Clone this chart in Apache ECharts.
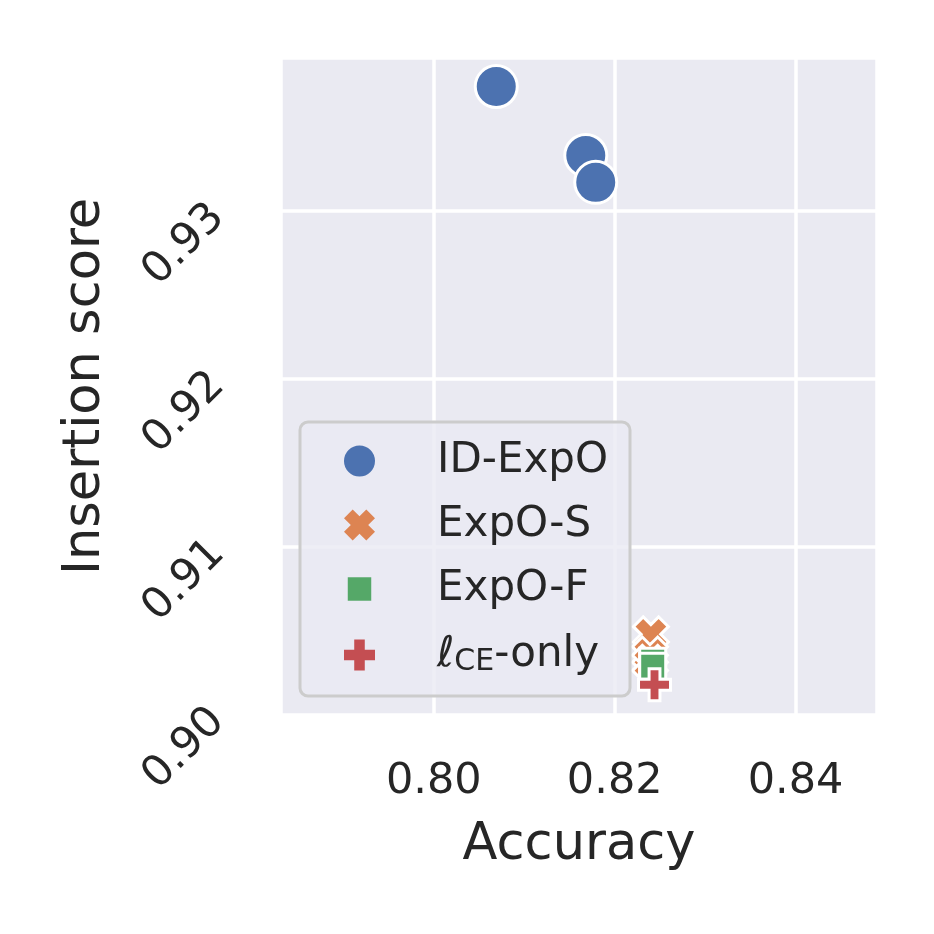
<!DOCTYPE html>
<html>
<head>
<meta charset="utf-8">
<script src="https://cdn.jsdelivr.net/npm/echarts@6/dist/echarts.min.js"></script>
<style>
html, body { margin: 0; padding: 0; background: #fff; }
#chart { width: 934px; height: 934px; }
</style>
</head>
<body>
<div id="chart"></div>
<script>
// data: [accuracy, insertion score]
const seriesNames = ['ID-ExpO', 'ExpO-S', 'ExpO-F', 'lCE-only'];
const idExpo = [[0.8069, 0.9374], [0.8168, 0.9333], [0.8179, 0.9317]];
const expoS  = [[0.8240, 0.9048], [0.8239, 0.9036], [0.8239, 0.9031]];
const expoF  = [[0.8242, 0.9032], [0.8242, 0.9029]];
const ceOnly = [[0.8244, 0.9018]];

const xRange = [0.7831, 0.8490];
const yRange = [0.9000, 0.9391];
const tickStep = { x: 0.02, y: 0.01 };

const colors = ['#4C72B0', '#DD8452', '#55A868', '#C44E52'];
const textColor = '#262626';
const font = 'DejaVu Sans';

// filled X and filled plus like matplotlib 'X' and 'P'
const xMarker = 'path://M2.8,0L5,2.2L7.2,0L10,2.8L7.8,5L10,7.2L7.2,10L5,7.8L2.8,10L0,7.2L2.2,5L0,2.8Z';
const plusMarker = 'path://M3.3,0H6.7V3.3H10V6.7H6.7V10H3.3V6.7H0V3.3H3.3Z';
// square with empty margin so the legend icon is drawn smaller
const legendSquare = 'path://M-1.6,-1.6L-1.6,-1.6M11.6,11.6L11.6,11.6M0,0H10V10H0Z';

function makeSeries(name, data, symbol, size, color) {
	return {
		name: name,
		type: 'scatter',
		data: data,
		symbol: symbol,
		symbolSize: size,
		itemStyle: { color: color, borderColor: '#fff', borderWidth: 3, opacity: 1 },
		emphasis: { disabled: true }
	};
}

var myChart = echarts.init(document.getElementById('chart'));

var option = {
	animation: false,
	backgroundColor: '#fff',
	textStyle: { fontFamily: font },
	grid: {
		left: 281, right: 57, top: 58, bottom: 219,
		show: true, backgroundColor: '#EAEAF2', borderWidth: 0
	},
	legend: {
		orient: 'vertical',
		left: 300, top: 422,
		padding: [17, 22, 19, 44],
		itemWidth: 31, itemHeight: 31, itemGap: 20,
		selectedMode: false,
		backgroundColor: 'rgba(234,234,242,0.8)',
		borderColor: '#cccccc', borderWidth: 3, borderRadius: 8,
		itemStyle: { borderWidth: 0 },
		data: [
			{ name: seriesNames[0] },
			{ name: seriesNames[1] },
			{ name: seriesNames[2], icon: legendSquare },
			{ name: seriesNames[3] }
		],
		formatter: function (n) {
			return n === 'lCE-only' ? '{l|ℓ}{s|CE}{t|-only}' : n;
		},
		textStyle: {
			fontFamily: font, fontSize: 42, lineHeight: 44, color: textColor,
			padding: [0, 0, 0, 57],
			rich: {
				l: { fontFamily: font, fontSize: 42, lineHeight: 44, color: textColor },
				s: { fontFamily: font, fontSize: 30, lineHeight: 30, color: textColor, verticalAlign: 'bottom', padding: [16, 0, 0, 0] },
				t: { fontFamily: font, fontSize: 42, lineHeight: 44, color: textColor }
			}
		}
	},
	xAxis: {
		type: 'value',
		min: xRange[0], max: xRange[1],
		minInterval: tickStep.x, maxInterval: tickStep.x,
		axisLine: { show: false },
		axisTick: { show: false },
		splitLine: { lineStyle: { color: '#fff', width: 3.5 } },
		axisLabel: {
			fontFamily: font, fontSize: 43, color: textColor, margin: 45,
			showMinLabel: false, showMaxLabel: false,
			formatter: v => v.toFixed(2)
		},
		name: 'Accuracy',
		nameLocation: 'middle',
		nameGap: 105,
		nameTextStyle: { fontFamily: font, fontSize: 51, color: textColor }
	},
	yAxis: {
		type: 'value',
		min: yRange[0], max: yRange[1],
		minInterval: tickStep.y, maxInterval: tickStep.y,
		axisLine: { show: false },
		axisTick: { show: false },
		splitLine: { lineStyle: { color: '#fff', width: 3.5 } },
		axisLabel: {
			fontFamily: font, fontSize: 43, color: textColor, margin: 63, rotate: 45,
			showMinLabel: true, showMaxLabel: false,
			formatter: v => v.toFixed(2)
		},
		name: 'Insertion score',
		nameLocation: 'middle',
		nameGap: 170,
		nameTextStyle: { fontFamily: font, fontSize: 51, color: textColor }
	},
	series: [
		makeSeries(seriesNames[0], idExpo, 'circle', 42, colors[0]),
		makeSeries(seriesNames[1], expoS, xMarker, 35, colors[1]),
		makeSeries(seriesNames[2], expoF, 'rect', 26, colors[2]),
		makeSeries(seriesNames[3], ceOnly, plusMarker, 32, colors[3])
	]
};

myChart.setOption(option);
</script>
</body>
</html>
